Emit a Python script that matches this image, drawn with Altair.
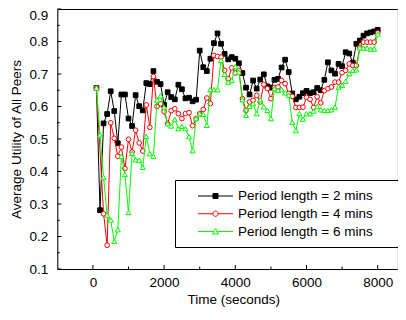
import altair as alt
import pandas as pd

# ---------------- data ----------------
times = list(range(100, 8100, 100))
series_names = ["Period length = 2 mins", "Period length = 4 mins", "Period length = 6 mins"]
series_colors = ["#000000", "#ff0000", "#00ff00"]

util_2min = [0.657, 0.281, 0.548, 0.577, 0.647, 0.586, 0.487, 0.637, 0.637, 0.563,
             0.540, 0.635, 0.601, 0.588, 0.672, 0.669, 0.709, 0.676, 0.669, 0.605,
             0.644, 0.629, 0.622, 0.667, 0.653, 0.625, 0.627, 0.616, 0.621, 0.772,
             0.721, 0.709, 0.747, 0.795, 0.825, 0.793, 0.762, 0.745, 0.752, 0.747,
             0.733, 0.703, 0.658, 0.637, 0.680, 0.655, 0.683, 0.699, 0.662, 0.658,
             0.682, 0.685, 0.720, 0.744, 0.706, 0.640, 0.622, 0.630, 0.641, 0.648,
             0.641, 0.644, 0.657, 0.650, 0.682, 0.736, 0.711, 0.701, 0.731, 0.724,
             0.767, 0.763, 0.735, 0.793, 0.803, 0.818, 0.825, 0.828, 0.831, 0.836]

util_4min = [0.657, None, 0.270, 0.173, 0.550, 0.502, 0.447, 0.475, 0.409, 0.499,
             0.460, 0.527, 0.488, 0.463, 0.605, 0.536, 0.692, 0.600, 0.608, 0.584,
             0.547, 0.587, 0.593, 0.578, 0.563, 0.578, 0.581, 0.541, 0.563, 0.578,
             0.591, 0.626, 0.609, 0.757, 0.754, 0.752, 0.711, 0.685, 0.719, 0.703,
             0.711, 0.624, 0.588, 0.614, 0.619, 0.634, 0.614, 0.668, 0.655, 0.624,
             0.658, 0.660, 0.680, 0.670, 0.640, 0.631, 0.597, 0.597, 0.598, 0.628,
             0.622, 0.597, 0.630, 0.611, 0.649, 0.655, 0.660, 0.675, 0.675, 0.704,
             0.711, 0.731, 0.726, 0.726, 0.782, 0.798, 0.798, 0.798, 0.798, 0.827]

util_6min = [0.657, 0.513, 0.382, 0.266, 0.251, 0.185, 0.221, 0.447, 0.391, 0.274,
             0.456, 0.436, 0.435, 0.413, 0.508, 0.455, 0.447, 0.620, 0.633, 0.598,
             0.547, 0.540, 0.560, 0.532, 0.539, 0.532, 0.507, 0.464, 0.563, 0.578,
             0.576, 0.542, 0.652, 0.652, 0.652, 0.742, 0.699, 0.675, 0.680, 0.723,
             0.706, 0.621, 0.573, 0.601, 0.609, 0.578, 0.621, 0.599, 0.588, 0.563,
             0.655, 0.650, 0.652, 0.642, 0.635, 0.552, 0.526, 0.578, 0.561, 0.578,
             0.578, 0.586, 0.600, 0.590, 0.588, 0.588, 0.590, 0.598, 0.660, 0.665,
             0.678, 0.701, 0.711, 0.713, 0.781, 0.780, 0.780, 0.777, 0.777, 0.823]

x_major_ticks = [0, 2000, 4000, 6000, 8000]
x_minor_ticks = [1000, 3000, 5000, 7000]
y_major_ticks = [0.1, 0.2, 0.3, 0.4, 0.5, 0.6, 0.7, 0.8, 0.9]
y_minor_ticks = [0.15, 0.25, 0.35, 0.45, 0.55, 0.65, 0.75, 0.85]

# ---------------- tables ----------------
frames = []
for name, vals in zip(series_names, [util_2min, util_4min, util_6min]):
    frames.append(pd.DataFrame({"time": times, "utility": vals, "series": name}))
df = pd.concat(frames).dropna().reset_index(drop=True)

FONT = "Liberation Sans"
FS = 13.5
W, H = 340, 260
PAD_TOP = 1
x_scale = alt.Scale(domain=[-1000, 8550], nice=False, zero=False)
y_scale = alt.Scale(domain=[0.1, 0.9], nice=False, zero=False)

# legend symbols: line + marker as custom paths (unit = 6.5 px)
sym_square = "M-4.846,0M-2.692,0H2.692M-0.385,-0.385H0.385V0.385H-0.385ZM26.38,0"
sym_circle = ("M-4.846,0M-2.692,0H-0.4M0.4,0H2.692M-0.4,0"
              "A0.4,0.4,0,1,0,0.4,0A0.4,0.4,0,1,0,-0.4,0ZM26.38,0")
sym_tri = ("M-4.846,0M-2.692,0H-0.252M0.252,0H2.692"
           "M0,-0.4615L0.4615,0.385L-0.4615,0.385ZM26.38,0")

legend_kw = dict(
    title=None, orient="none", legendX=117.7, legendY=180 - 8 - PAD_TOP, padding=9,
    strokeColor="black", fillColor="white", labelFont=FONT, labelFontSize=FS,
    labelColor="black", labelOffset=15.5, rowPadding=3.75, symbolSize=169,
    symbolOffset=24.5, symbolStrokeWidth=1, labelLimit=300,
)

marker_shapes = ["square", "circle", "triangle-up"]
marker_fill = ["#000000", "#ffffff", "#ffffff"]
marker_size = [22, 22, 26]

layers = []
for i, name in enumerate(series_names):
    base = alt.Chart(df).transform_filter(alt.datum.series == name)
    if i == 0:
        xenc = alt.X("time:Q", scale=x_scale, axis=alt.Axis(
            orient="bottom", values=x_major_ticks, format="d", grid=False, ticks=False,
            domainColor="black", domainWidth=1, labelFont=FONT, labelFontSize=FS,
            labelColor="black", labelPadding=6.5, title="Time (seconds)",
            titleFont=FONT, titleFontSize=FS, titleFontWeight="normal",
            titleColor="black", titlePadding=3, titleX=176))
        yenc = alt.Y("utility:Q", scale=y_scale, axis=alt.Axis(
            orient="left", values=y_major_ticks, format=".1f", grid=False, ticks=False,
            domainColor="black", domainWidth=1, labelFont=FONT, labelFontSize=FS,
            labelColor="black", labelPadding=9.5,
            labelOffset={"condition": {"test": "datum.value > 0.85", "value": 6}, "value": 0},
            title="Average Utility of All Peers",
            titleFont=FONT, titleFontSize=FS, titleFontWeight="normal",
            titleColor="black", titlePadding=6))
    else:
        xenc = alt.X("time:Q", scale=x_scale, axis=None)
        yenc = alt.Y("utility:Q", scale=y_scale, axis=None)
    line = base.mark_line(color=series_colors[i], strokeWidth=1).encode(x=xenc, y=yenc)
    pts = base.mark_point(shape=marker_shapes[i], fill=marker_fill[i], stroke=series_colors[i],
                          strokeWidth=1, size=marker_size[i], opacity=1, fillOpacity=1).encode(
        x=alt.X("time:Q", scale=x_scale, axis=None),
        y=alt.Y("utility:Q", scale=y_scale, axis=None))
    layers += [line, pts]

# major x ticks (inward) + top frame line drawn as a top axis domain
x_major = alt.Chart(pd.DataFrame({"v": x_major_ticks})).mark_rule(
    color="black", strokeWidth=1).encode(
    x=alt.X("v:Q", scale=x_scale, axis=alt.Axis(orient="top", labels=False, ticks=False,
            grid=False, domain=True, domainColor="black", title=None)),
    y=alt.value(H - 4), y2=alt.value(H))

x_minor = alt.Chart(pd.DataFrame({"v": x_minor_ticks})).mark_rule(
    color="black", strokeWidth=1).encode(
    x=alt.X("v:Q", scale=x_scale, axis=None), y=alt.value(H - 2.5), y2=alt.value(H))

y_major = alt.Chart(pd.DataFrame({"v": y_major_ticks})).mark_rule(
    color="black", strokeWidth=1).encode(
    y=alt.Y("v:Q", scale=y_scale, axis=None), x=alt.value(0), x2=alt.value(4))

y_minor = alt.Chart(pd.DataFrame({"v": y_minor_ticks})).mark_rule(
    color="black", strokeWidth=1).encode(
    y=alt.Y("v:Q", scale=y_scale, axis=None), x=alt.value(0), x2=alt.value(2.5))

legend_layer = alt.Chart(pd.DataFrame({"series": series_names})).transform_filter(
    "false").mark_point(strokeWidth=1, opacity=1, size=169).encode(
    color=alt.Color("series:N", scale=alt.Scale(domain=series_names, range=series_colors),
                    legend=alt.Legend(**legend_kw)),
    fill=alt.Fill("series:N", scale=alt.Scale(domain=series_names, range=marker_fill),
                  legend=alt.Legend(**legend_kw)),
    shape=alt.Shape("series:N", scale=alt.Scale(domain=series_names,
                    range=[sym_square, sym_circle, sym_tri]),
                    legend=alt.Legend(**legend_kw)),
)

chart = alt.layer(x_major, x_minor, y_major, y_minor, *layers, legend_layer).resolve_axis(
    x="independent", y="independent"
).properties(
    width=W, height=H,
    autosize=alt.AutoSizeParams(type="none"),
    padding={"left": 49.3, "top": PAD_TOP, "right": 0.7, "bottom": 45},
).configure_view(stroke=None).configure(font=FONT)

chart.save("out.html", embed_options={"renderer": "svg", "actions": False})
